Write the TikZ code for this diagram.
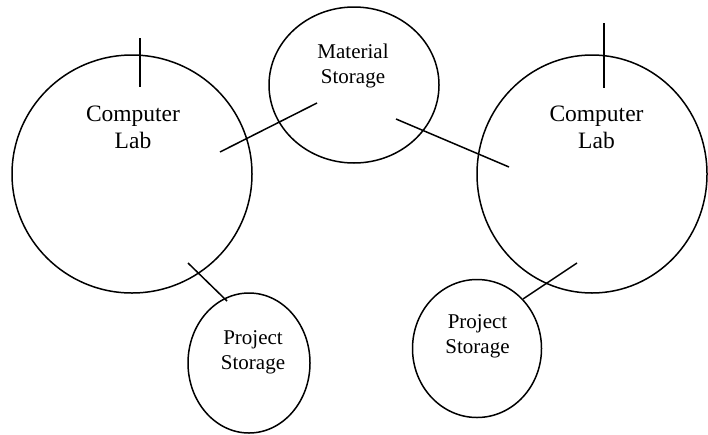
\documentclass[tikz,border=0pt]{standalone}
\usepackage{fontspec}
\setmainfont{Liberation Serif}
\usetikzlibrary{shapes.geometric}
\begin{document}
\begin{tikzpicture}[x=1pt,y=-1pt,
  room/.style={draw,ellipse,line width=1.5pt,inner sep=0pt},
  conn/.style={draw,line width=1.5pt},
  bigtext/.style={align=center,inner sep=0pt,font=\fontsize{23.5}{27.5}\selectfont},
  smalltext/.style={align=center,inner sep=0pt,font=\fontsize{21}{25.5}\selectfont}]
\useasboundingbox (0,0) rectangle (708,434);
% rooms
\node[room,minimum width=240pt,minimum height=238pt] (labL) at (132,174) {};
\node[room,minimum width=170pt,minimum height=156pt] (mat) at (354,85) {};
\node[room,minimum width=230pt,minimum height=238pt] (labR) at (592,174) {};
\node[room,minimum width=122pt,minimum height=140pt] (projL) at (249,363) {};
\node[room,minimum width=129pt,minimum height=138pt] (projR) at (477,348.5) {};
% labels
\node[bigtext] (tLabL) at (133,127.5) {Computer\\Lab};
\node[bigtext] (tLabR) at (596.5,127.5) {Computer\\Lab};
\node[smalltext] (tMat) at (353,66) {Material\\Storage};
\node[smalltext] (tProjL) at (253,352.5) {Project\\Storage};
\node[smalltext] (tProjR) at (477.5,336.5) {Project\\Storage};
% connector ends
\coordinate (tickLa) at (140,38);
\coordinate (tickLb) at (140,87);
\coordinate (tickRa) at (604,23);
\coordinate (tickRb) at (604,88);
\coordinate (lm1) at (220,152);
\coordinate (lm2) at (317,103);
\coordinate (mr1) at (396,119);
\coordinate (mr2) at (509,167);
\coordinate (lp1) at (188,263);
\coordinate (lp2) at (227,301);
\coordinate (rp1) at (577,263);
\coordinate (rp2) at (523,299);
% connectors
\draw[conn] (tickLa) -- (tickLb);
\draw[conn] (tickRa) -- (tickRb);
\draw[conn] (lm1) -- (lm2);
\draw[conn] (mr1) -- (mr2);
\draw[conn] (lp1) -- (lp2);
\draw[conn] (rp1) -- (rp2);
\end{tikzpicture}
\end{document}
